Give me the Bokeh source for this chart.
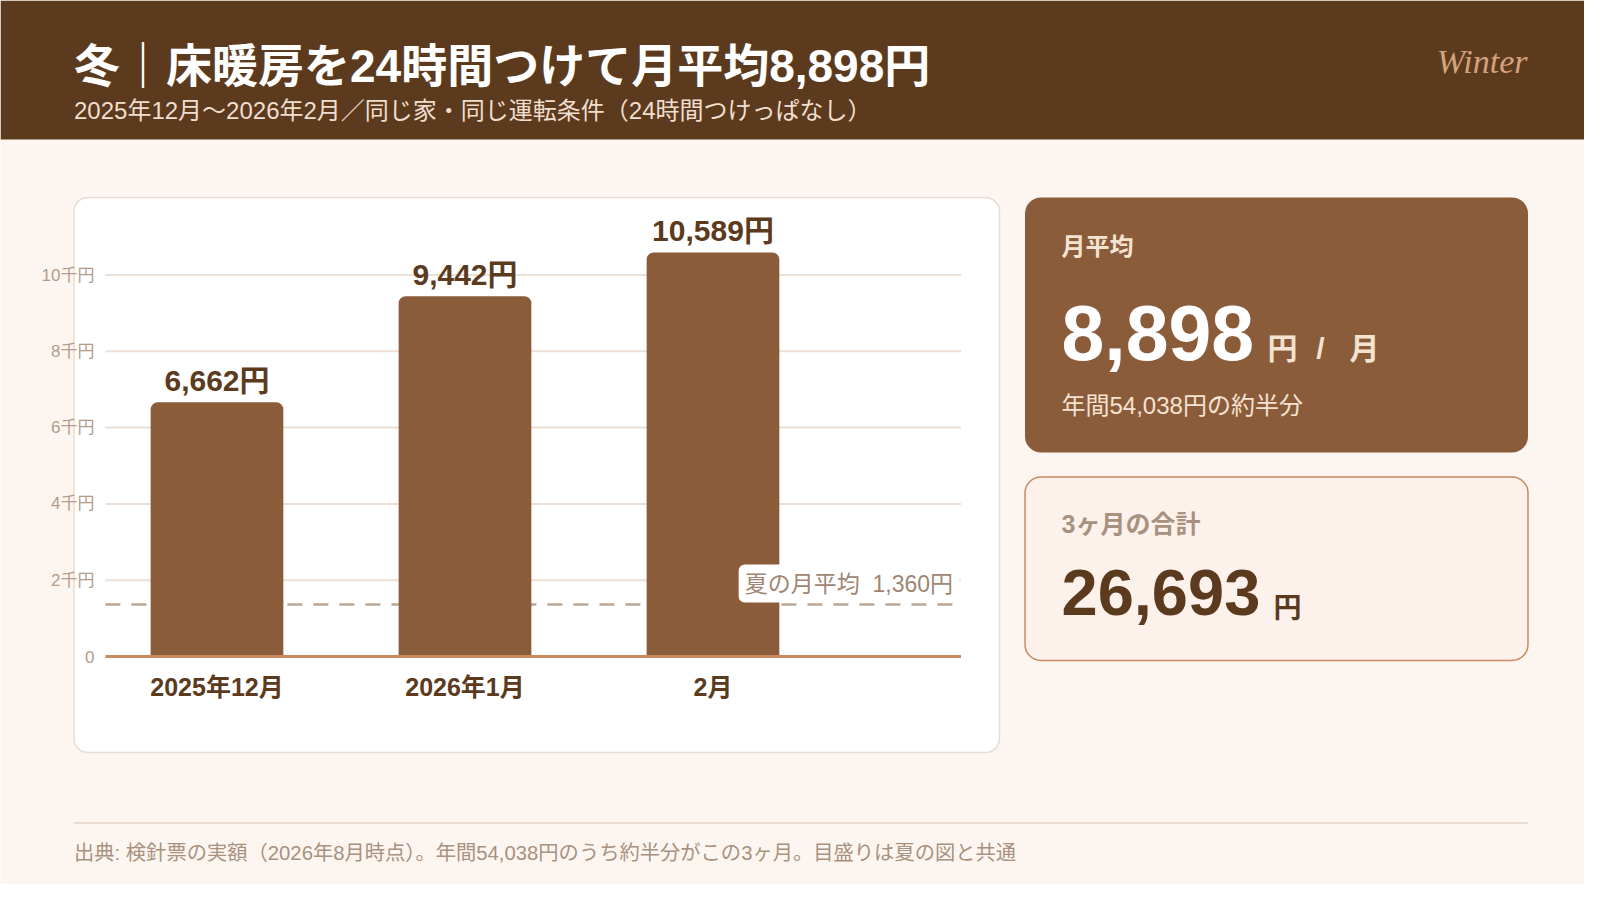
from bokeh.plotting import figure
from bokeh.models import Range1d
from bokeh.core.properties import value
from bokeh.embed import file_html
from bokeh.resources import INLINE

# データ（冬の電気代）
months = ["2025年12月", "2026年1月", "2月"]
costs = [6662, 9442, 10589]
summer_avg = 1360
annual_total = 54038
y_ticks = [0, 2000, 4000, 6000, 8000, 10000]
y_tick_labels = ["0", "2千円", "4千円", "6千円", "8千円", "10千円"]

total_3m = sum(costs)
monthly_avg = round(total_3m / len(costs))

# 色とフォント
BG = "#fdf6f0"
HEADER = "#5c3a1e"
BROWN = "#8b5c3a"
DARK = "#5c3a1e"
CREAM = "#f5e3d2"
MUTED = "#a8917f"
SANS = value("Liberation Sans, Noto Sans CJK JP")
W, H = 1584, 884

# ページ座標（px）でレイアウト、グラフは別スケール
p = figure(width=W, height=H, x_range=Range1d(0, W), y_range=Range1d(H, 0),
           output_backend="svg", toolbar_location=None, tools="", min_border=0,
           x_axis_location=None, y_axis_location=None,
           background_fill_color=BG, border_fill_color=BG, outline_line_color=None)
p.grid.grid_line_color = None

# カテゴリ軸と金額軸（棒グラフ用）
X0, XU = 216.5, 248.0     # 1本目の中心 / カテゴリ間隔
Y0, YU = 656.0, 0.03815   # 0円の位置 / 1円あたりのpx
p.extra_x_ranges = {"cat": Range1d((0 - X0) / XU, (W - X0) / XU)}
p.extra_y_ranges = {"yen": Range1d((Y0 - H) / YU, Y0 / YU)}
PLOT_L, PLOT_R = -0.45, 3.0
idx = list(range(len(months)))

# ヘッダー
p.quad(left=0, right=W, top=0, bottom=139, fill_color=HEADER, line_color=None)
p.text(x=[73.5], y=[65], text=[f"冬｜床暖房を24時間つけて月平均{monthly_avg:,}円"],
       text_font=SANS, text_font_style="bold", text_font_size="46px", text_color="white",
       text_baseline="middle")
p.text(x=[73.5], y=[110], text=["2025年12月～2026年2月／同じ家・同じ運転条件（24時間つけっぱなし）"],
       text_font=SANS, text_font_size="24px", text_color="#f0dfcf", text_baseline="middle")
p.text(x=[1527], y=[61], text=["Winter"], text_font=value("Liberation Serif"),
       text_font_style="italic", text_font_size="34px", text_color="#d4a27c",
       text_align="right", text_baseline="middle")

# グラフカード
p.quad(left=73.5, right=999, top=197, bottom=752, fill_color="white",
       line_color="#eadcd1", line_width=1.5, border_radius=14)

p.segment(x0=PLOT_L, x1=PLOT_R, y0=y_ticks[1:], y1=y_ticks[1:], x_range_name="cat",
          y_range_name="yen", line_color="#ecdfd5", line_width=2)
p.segment(x0=PLOT_L, x1=2.97, y0=summer_avg, y1=summer_avg, x_range_name="cat",
          y_range_name="yen", line_color="#bba795", line_width=2.5, line_dash="15 11")
p.vbar(x=idx, top=costs, bottom=0, width=0.535, x_range_name="cat", y_range_name="yen",
       fill_color=BROWN, line_color=None,
       border_radius=dict(top_left=7, top_right=7, bottom_right=0, bottom_left=0))
p.segment(x0=PLOT_L, x1=PLOT_R, y0=0, y1=0, x_range_name="cat", y_range_name="yen",
          line_color="#c98a5e", line_width=3)

p.text(x=94, y=y_ticks, text=y_tick_labels, y_range_name="yen", text_font=SANS,
       text_font_size="17px", text_color="#b39c8a", text_align="right", text_baseline="middle")
p.text(x=idx, y=686, text=months, x_range_name="cat", text_font=SANS, text_font_style="bold",
       text_font_size="25px", text_color=DARK, text_align="center", text_baseline="middle")
p.text(x=idx, y=costs, text=[f"{c:,}円" for c in costs], x_range_name="cat", y_range_name="yen",
       text_font=SANS, text_font_style="bold", text_font_size="30px", text_color=DARK,
       text_align="center", text_baseline="middle", y_offset=-22)
p.text(x=[PLOT_R], y=[summer_avg], text=[f"夏の月平均 \u00a0{summer_avg:,}円"], x_range_name="cat",
       y_range_name="yen", text_font=SANS, text_font_size="23px", text_color="#a08672",
       text_align="right", text_baseline="middle", x_offset=-2, y_offset=-21,
       background_fill_color="white", padding=6, border_radius=6)

# 右側カード：月平均
p.quad(left=1024.5, right=1527.5, top=197, bottom=452, fill_color=BROWN, line_color=None,
       border_radius=16)
p.text(x=[1061], y=[246], text=["月平均"], text_font=SANS, text_font_style="bold",
       text_font_size="24px", text_color=CREAM, text_baseline="middle")
p.text(x=[1061], y=[332], text=[f"{monthly_avg:,}"], text_font=SANS, text_font_style="bold",
       text_font_size="77px", text_color="white", text_baseline="middle")
p.text(x=[1267, 1320, 1349], y=[348, 348, 348], text=["円", "/", "月"], text_font=SANS,
       text_font_style="bold", text_font_size="30px", text_color=CREAM,
       text_align=["left", "center", "left"], text_baseline="middle")
p.text(x=[1061], y=[405], text=[f"年間{annual_total:,}円の約半分"], text_font=SANS,
       text_font_size="24px", text_color=CREAM, text_baseline="middle")

# 右側カード：3ヶ月の合計
p.quad(left=1024.5, right=1527.5, top=476.5, bottom=660, fill_color="#fdf1eb",
       line_color="#c98a5e", line_width=1.5, border_radius=16)
p.text(x=[1061], y=[523], text=["3ヶ月の合計"], text_font=SANS, text_font_style="bold",
       text_font_size="25px", text_color=MUTED, text_baseline="middle")
p.text(x=[1061], y=[592], text=[f"{total_3m:,}"], text_font=SANS, text_font_style="bold",
       text_font_size="65px", text_color=DARK, text_baseline="middle")
p.text(x=[1273], y=[608], text=["円"], text_font=SANS, text_font_style="bold",
       text_font_size="28px", text_color=DARK, text_baseline="middle")

# フッター
p.segment(x0=73.5, x1=1527.5, y0=822.5, y1=822.5, line_color="#e9dbd0", line_width=2)
p.text(x=[73.5], y=[852],
       text=[f"出典: 検針票の実額（2026年8月時点）。年間{annual_total:,}円のうち約半分がこの3ヶ月。目盛りは夏の図と共通"],
       text_font=SANS, text_font_size="20.3px", text_color=MUTED, text_baseline="middle")

open("out.html", "w").write(file_html(p, INLINE))
